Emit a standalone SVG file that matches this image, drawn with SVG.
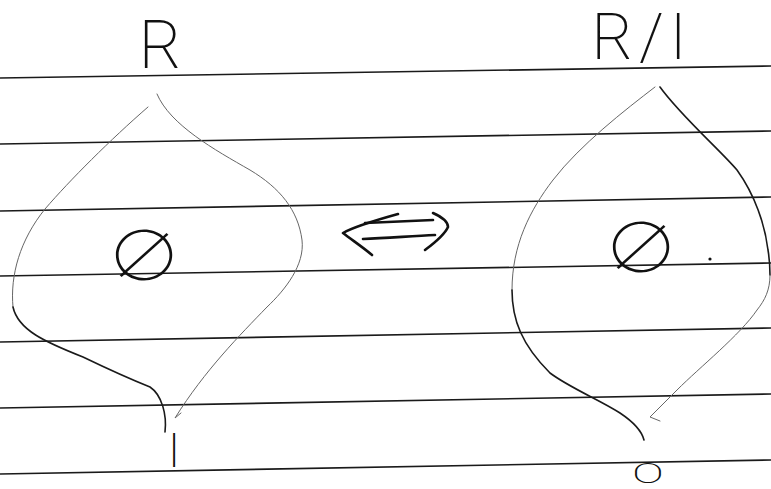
<svg xmlns="http://www.w3.org/2000/svg" width="771" height="489" viewBox="0 0 771 489">
<style>
.rule{stroke:#1a1a1a;stroke-width:1.6;fill:none}
.thin{stroke:#666;stroke-width:1;fill:none;stroke-linecap:round}
.ink{stroke:#1a1a1a;stroke-width:1.6;fill:none;stroke-linecap:round;stroke-linejoin:round}
.arrow{stroke:#111;stroke-width:2.6;fill:none;stroke-linecap:round;stroke-linejoin:round}
.lbl{font-family:Roboto,"Liberation Sans",sans-serif;font-weight:200;fill:#111;text-anchor:middle}
.sym{font-family:"Noto Sans CJK JP","DejaVu Sans",sans-serif;font-weight:100;fill:#111;text-anchor:middle}
</style>
<rect width="771" height="489" fill="#fff"/>
<g id="ruled-lines">
<line class="rule" x1="0" y1="78" x2="771" y2="66"/>
<line class="rule" x1="0" y1="144" x2="771" y2="131"/>
<line class="rule" x1="0" y1="211" x2="771" y2="197"/>
<line class="rule" x1="0" y1="276" x2="771" y2="263"/>
<line class="rule" x1="0" y1="342" x2="771" y2="328"/>
<line class="rule" x1="0" y1="408" x2="771" y2="394"/>
<line class="rule" x1="0" y1="474" x2="771" y2="460"/>
</g>
<g id="left-leaf">
<text class="lbl" x="160" y="68" font-size="66">R</text>
<path class="thin" d="M157,94 C170,125 215,150 250,170 C280,188 298,210 302,240 C305,265 285,290 267,307 C240,335 205,370 175,418 L181,413"/>
<path class="thin" d="M148,107 C110,140 70,180 45,209 C20,240 10,275 13,307"/>
<path class="ink" d="M13,307 C18,330 45,342 83,357 C110,370 140,383 150,387 C162,395 167,415 165,432"/>
<text class="sym" transform="translate(144,281) scale(1.12,1)" font-size="68">∅</text>
<text class="lbl" x="174" y="467" font-size="48">I</text>
</g>
<g id="right-leaf">
<text class="lbl" x="642" y="59" font-size="64" letter-spacing="6">R/I</text>
<path class="thin" d="M655,87 C625,110 580,145 553,180 C530,210 512,245 512,290"/>
<path class="ink" d="M512,290 C512,320 522,345 550,373 C570,388 600,400 620,413 C635,423 642,432 644,440"/>
<path class="ink" d="M660,87 C680,115 720,150 737,170 C755,195 765,225 768,250 C770,262 770,270 770,275"/>
<path class="thin" d="M770,275 C770,290 765,300 757,310 C740,335 700,367 677,390 L650,417 L660,421"/>
<text class="sym" transform="translate(641,273) scale(1.12,1)" font-size="68">∅</text>
<circle cx="710" cy="259" r="1.6" fill="#111"/>
<text class="lbl" transform="translate(648,483) scale(1.7,1)" font-size="28">O</text>
</g>
<g id="connectors">
<path class="arrow" d="M398,214 C380,219 355,226 343,233 C352,240 364,248 372,255"/>
<path class="arrow" d="M365,223 C390,222 412,221 433,220"/>
<path class="arrow" d="M363,239 C388,238 412,236 435,235"/>
<path class="arrow" d="M433,213 C442,217 448,222 448,227 C444,236 433,244 425,250"/>
</g>
</svg>
